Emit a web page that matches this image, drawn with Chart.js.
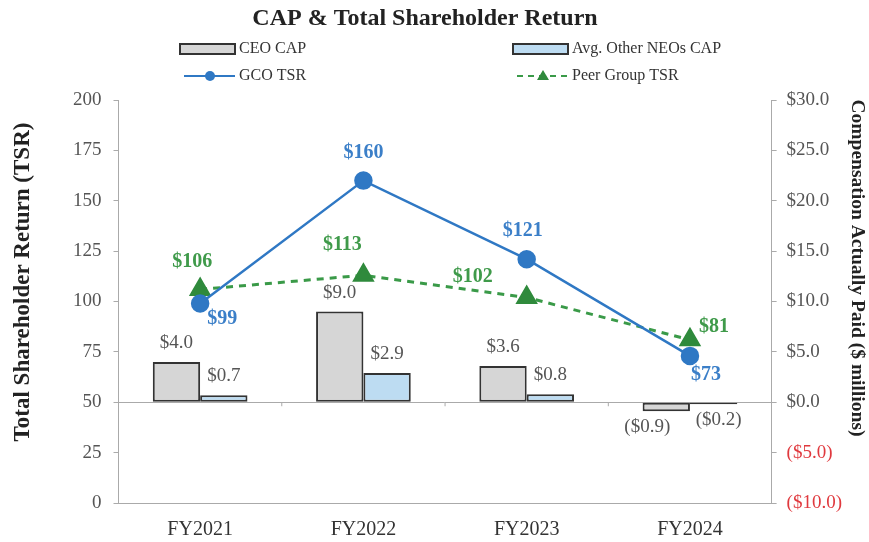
<!DOCTYPE html>
<html>
<head>
<meta charset="utf-8">
<script src="https://cdn.jsdelivr.net/npm/chart.js@4.4.1/dist/chart.umd.min.js"></script>
<style>
  body { margin: 0; background: #fff; }
  #wrap { width: 869px; height: 542px; }
</style>
</head>
<body>
<div id="wrap"><canvas id="capChart" width="869" height="542"></canvas></div>
<script>
const years = ["FY2021", "FY2022", "FY2023", "FY2024"];
const ceoCap = [4.0, 9.0, 3.6, -0.9];
const neoCap = [0.7, 2.9, 0.8, -0.2];
const gcoTsr = [99, 160, 121, 73];
const peerTsr = [106, 113, 102, 81];

const serif = "'Liberation Serif', 'Times New Roman', serif";

// where each line label sits relative to its point (Excel placed them by hand)
const gcoLabelOffsets = [[22, 15], [0, -28], [-4, -28], [16, 19]];
const peerLabelOffsets = [[-8, -28], [-21, -30], [-54, -21], [24, -13]];

function money(v) {
  return v < 0 ? "($" + Math.abs(v).toFixed(1) + ")" : "$" + v.toFixed(1);
}

const valueLabels = {
  id: "valueLabels",
  afterDatasetsDraw(chart) {
    const ctx = chart.ctx;
    ctx.save();
    ctx.textAlign = "center";
    ctx.textBaseline = "middle";
    chart.data.datasets.forEach((ds, i) => {
      const meta = chart.getDatasetMeta(i);
      meta.data.forEach((el, j) => {
        const v = ds.data[j];
        if (ds.type === "bar") {
          ctx.font = "19px " + serif;
          ctx.fillStyle = "#555";
          if (v >= 0) {
            ctx.fillText(money(v), el.x, el.y - 19);
          } else {
            const dx = i === 0 ? -19 : 5;
            ctx.fillText(money(v), el.x + dx, el.y + 16);
          }
        } else {
          const off = i === 2 ? gcoLabelOffsets[j] : peerLabelOffsets[j];
          ctx.font = "bold 20px " + serif;
          ctx.fillStyle = i === 2 ? "#3b7fc8" : "#3f9a4a";
          ctx.fillText("$" + v, el.x + off[0], el.y + off[1]);
        }
      });
    });
    ctx.restore();
  }
};

// zero line of the CAP axis gets little tick marks between categories
const zeroTicks = {
  id: "zeroTicks",
  beforeDatasetsDraw(chart) {
    const ctx = chart.ctx;
    const x = chart.scales.x;
    const y0 = chart.scales.y1.getPixelForValue(0);
    ctx.save();
    ctx.strokeStyle = "#aaa";
    ctx.lineWidth = 1;
    for (let k = 1; k < years.length; k++) {
      const px = (x.getPixelForValue(k - 1) + x.getPixelForValue(k)) / 2;
      ctx.beginPath();
      ctx.moveTo(px, y0);
      ctx.lineTo(px, y0 + 4);
      ctx.stroke();
    }
    ctx.restore();
  }
};

// title, two-column legend and the two axis titles, laid out like the Excel original
const frameText = {
  id: "frameText",
  afterDraw(chart) {
    const ctx = chart.ctx;
    const ds = chart.data.datasets;
    const cols = [180, 513];
    const rows = [49, 76];
    ctx.save();
    ctx.font = "bold 24px " + serif;
    ctx.fillStyle = "#222";
    ctx.textAlign = "center";
    ctx.textBaseline = "alphabetic";
    ctx.fillText("CAP & Total Shareholder Return", 425, 25);

    ctx.textBaseline = "middle";
    ctx.save();
    ctx.translate(23, 282);
    ctx.rotate(-Math.PI / 2);
    ctx.font = "bold 23px " + serif;
    ctx.fillText("Total Shareholder Return (TSR)", 0, 0);
    ctx.restore();
    ctx.save();
    ctx.translate(857, 268);
    ctx.rotate(Math.PI / 2);
    ctx.font = "bold 19.5px " + serif;
    ctx.fillText("Compensation Actually Paid ($ millions)", 0, 0);
    ctx.restore();

    ctx.font = "16px " + serif;
    ctx.textAlign = "left";
    ds.forEach((d, i) => {
      const x = cols[i % 2];
      const y = rows[Math.floor(i / 2)];
      if (d.type === "bar") {
        ctx.fillStyle = d.backgroundColor;
        ctx.strokeStyle = d.borderColor;
        ctx.lineWidth = 2;
        ctx.fillRect(x, y - 5, 55, 10);
        ctx.strokeRect(x, y - 5, 55, 10);
      } else {
        ctx.strokeStyle = d.borderColor;
        ctx.lineWidth = 2;
        ctx.setLineDash(d.borderDash ? [6, 5] : []);
        ctx.beginPath();
        ctx.moveTo(x + 4, y);
        ctx.lineTo(x + 55, y);
        ctx.stroke();
        ctx.setLineDash([]);
        ctx.fillStyle = d.pointBackgroundColor;
        ctx.beginPath();
        if (d.pointStyle === "triangle") {
          ctx.moveTo(x + 30, y - 6);
          ctx.lineTo(x + 36, y + 4);
          ctx.lineTo(x + 24, y + 4);
          ctx.closePath();
        } else {
          ctx.arc(x + 30, y, 5, 0, Math.PI * 2);
        }
        ctx.fill();
      }
      ctx.fillStyle = "#333";
      ctx.fillText(d.label, x + 59, y);
    });
    ctx.restore();
  }
};

new Chart(document.getElementById("capChart"), {
  data: {
    labels: years,
    datasets: [
      {
        type: "bar",
        label: "CEO CAP",
        data: ceoCap,
        yAxisID: "y1",
        backgroundColor: "#d6d6d6",
        borderColor: "#333",
        borderWidth: 2,
        borderSkipped: false,
        categoryPercentage: 0.58,
        barPercentage: 1.0,
        order: 2,
      },
      {
        type: "bar",
        label: "Avg. Other NEOs CAP",
        data: neoCap,
        yAxisID: "y1",
        backgroundColor: "#bddcf2",
        borderColor: "#333",
        borderWidth: 2,
        borderSkipped: false,
        categoryPercentage: 0.58,
        barPercentage: 1.0,
        order: 2,
      },
      {
        type: "line",
        label: "GCO TSR",
        data: gcoTsr,
        yAxisID: "y",
        borderColor: "#2f78c4",
        borderWidth: 2.5,
        pointStyle: "circle",
        pointRadius: 8,
        pointBackgroundColor: "#2f78c4",
        pointBorderColor: "#2f78c4",
        tension: 0,
        order: 0,
      },
      {
        type: "line",
        label: "Peer Group TSR",
        data: peerTsr,
        yAxisID: "y",
        borderColor: "#3a9a48",
        borderWidth: 3,
        borderDash: [7, 6],
        pointStyle: "triangle",
        pointRadius: 10,
        pointBackgroundColor: "#2f8a3c",
        pointBorderColor: "#2f8a3c",
        tension: 0,
        order: 1,
      },
    ],
  },
  options: {
    responsive: false,
    animation: false,
    layout: { padding: { top: 100, left: 61, right: 17, bottom: 0 } },
    plugins: {
      legend: { display: false },
      title: { display: false },
      tooltip: { enabled: false },
    },
    scales: {
      x: {
        grid: { display: false, drawTicks: false, tickLength: 0 },
        border: { color: "#aaa" },
        ticks: { color: "#333", font: { family: serif, size: 20 }, padding: 15 },
        afterFit: (scale) => { scale.height = 39; },
      },
      y: {
        position: "left",
        min: 0,
        max: 200,
        ticks: { stepSize: 25, color: "#555", font: { family: serif, size: 19 }, padding: 12 },
        grid: { drawOnChartArea: false, color: "#aaa", tickLength: 5 },
        border: { color: "#aaa" },
      },
      y1: {
        position: "right",
        min: -10,
        max: 30,
        ticks: {
          stepSize: 5,
          font: { family: serif, size: 19 },
          padding: 10,
          color: (c) => (c.tick.value < 0 ? "#e0393e" : "#555"),
          callback: (v) => money(v),
        },
        grid: {
          color: (c) => (c.tick.value === 0 ? "#aaa" : "rgba(0,0,0,0)"),
          tickColor: "#aaa",
          tickLength: 5,
        },
        border: { color: "#aaa" },
      },
    },
  },
  plugins: [zeroTicks, valueLabels, frameText],
});
</script>
</body>
</html>
